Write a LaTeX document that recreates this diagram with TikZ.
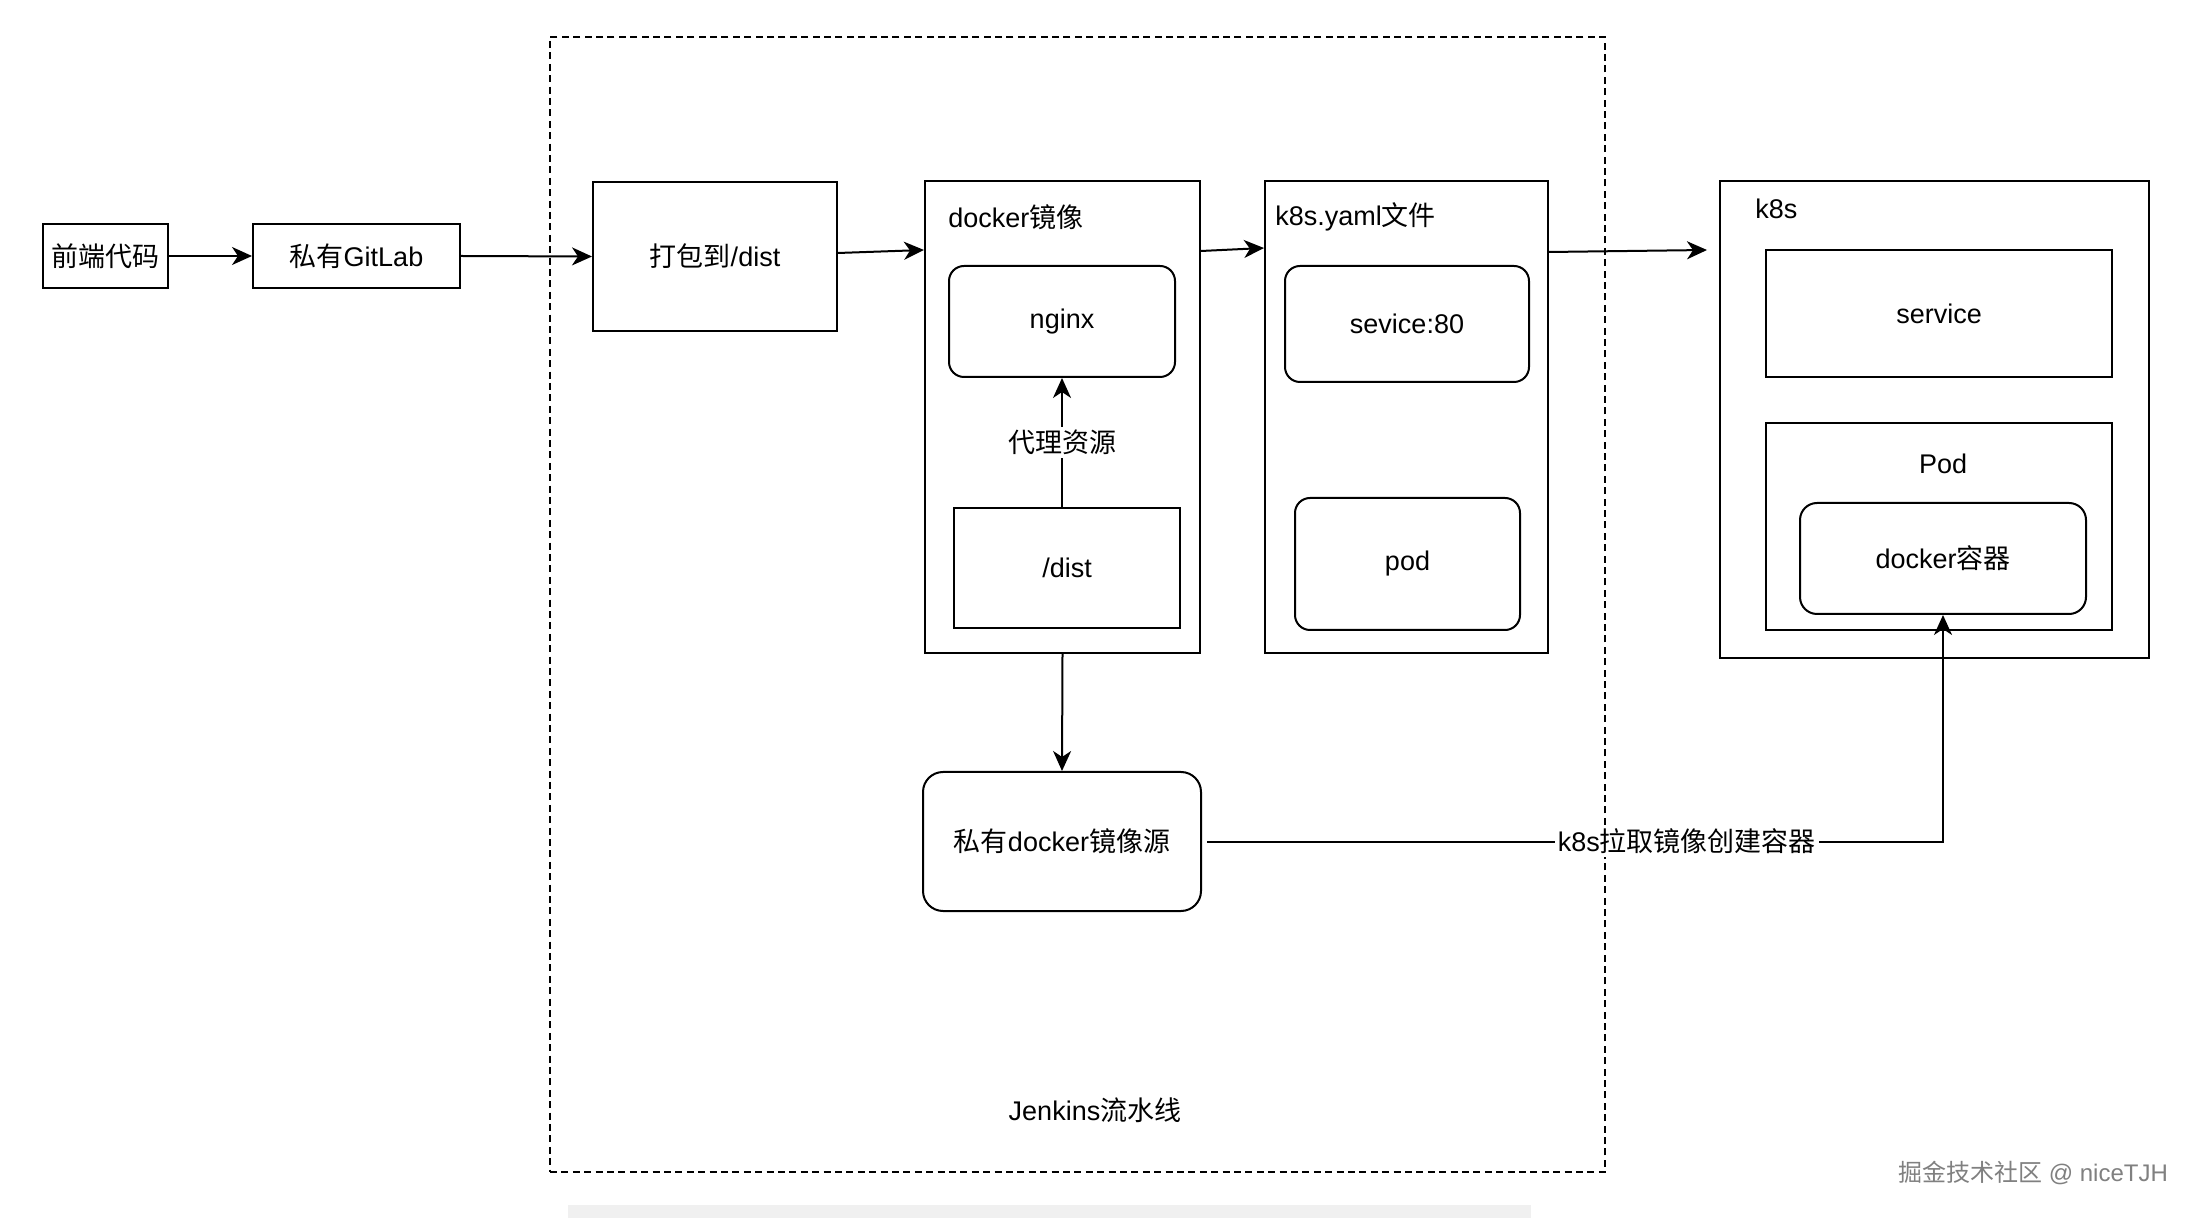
\documentclass[tikz,border=0pt]{standalone}
\usepackage{fontspec}
\setmainfont{Liberation Sans}
\newfontfamily\cjk{Noto Sans CJK SC}
\usetikzlibrary{arrows.meta,fit,calc}
\begin{document}
\begin{tikzpicture}[x=0.5pt,y=-0.5pt,
  every node/.style={font=\fontsize{13.5}{16}\selectfont, inner sep=0pt},
  box/.style={draw, line width=1pt},
  rbox/.style={draw, line width=1pt, rounded corners=7.5pt},
  arr/.style={line width=1pt, -{Stealth[length=10pt,width=9pt,inset=3pt]}},
  lbl/.style={fill=white, inner sep=1.5pt},
  txt/.style={label={center:#1}},
]
\fill[white] (0,0) rectangle (2206,1218);
\useasboundingbox (0,0) rectangle (2206,1218);

% Jenkins pipeline frame
\node[draw, line width=0.8pt, dash pattern=on 3.5pt off 2.2pt, fit={(550,37) (1605,1172)}] (jenkins) {};
\node (jenkinslbl) at (1095,1110) {Jenkins{\cjk 流水线}};

% left chain
\node[box, fit={(43,224) (168,288)}, txt={{\cjk 前端代码}}] (code) {};
\node[box, fit={(253,224) (460,288)}, txt={{\cjk 私有}GitLab}] (gitlab) {};
\node[box, fit={(593,182) (837,331)}, txt={{\cjk 打包到}/dist}] (dabao) {};

% docker image container
\node[box, fit={(925,181) (1200,653)}] (docker) {};
\node[anchor=west] (dockertitle) at (948,217) {docker{\cjk 镜像}};
\node[rbox, fit={(949,266) (1175,377)}, txt={nginx}] (nginx) {};
\node[box, fit={(954,508) (1180,628)}, txt={/dist}] (dist) {};

% k8s yaml container
\node[box, fit={(1265,181) (1548,653)}] (yaml) {};
\node[anchor=west] (yamltitle) at (1275,217) {k8s.yaml{\cjk 文件}};
\node[rbox, fit={(1285,266) (1529,382)}, txt={sevice:80}] (sevice) {};
\node[rbox, fit={(1295,498) (1520,630)}, txt={pod}] (pod) {};

% k8s cluster
\node[box, fit={(1720,181) (2149,658)}] (k8s) {};
\node[anchor=west] (k8stitle) at (1755,209) {k8s};
\node[box, fit={(1766,250) (2112,377)}, txt={service}] (service) {};
\node[box, fit={(1766,423) (2112,630)}] (podbox) {};
\node (podtitle) at (1943,464) {Pod};
\node[rbox, rounded corners=8.5pt, fit={(1800,503) (2086,614)}, txt={docker{\cjk 容器}}] (container) {};

% registry
\node[rbox, rounded corners=10pt, fit={(923,772) (1201,911)}, txt={{\cjk 私有}docker{\cjk 镜像源}}] (registry) {};

% connectors
\draw[arr] (code.east) -- (gitlab.west);
\draw[arr] (gitlab.east) -- (dabao.west);
\draw[arr] (dabao.east |- 0,253) -- (docker.west |- 0,250);
\draw[arr] (docker.east |- 0,251) -- (yaml.west |- 0,248);
\draw[arr] (yaml.east |- 0,252) -- ([xshift=-6pt]k8s.west |- 0,250);
\draw[arr] (dist.north -| nginx.south) -- node[lbl] (proxylbl) {{\cjk 代理资源}} (nginx.south);
\draw[arr] (docker.south) -- (registry.north);
\draw[arr] ([xshift=2.5pt]registry.east) -| node[lbl, pos=0.326] (pulllbl) {k8s{\cjk 拉取镜像创建容器}} (container.south);

% watermark and bottom strip
\node[text=gray, font=\fontsize{12}{14}\selectfont] (wm) at (2033,1173) {{\cjk 掘金技术社区} @ niceTJH};
\fill[gray!12] (568,1205) rectangle (1531,1218);
\end{tikzpicture}
\end{document}
